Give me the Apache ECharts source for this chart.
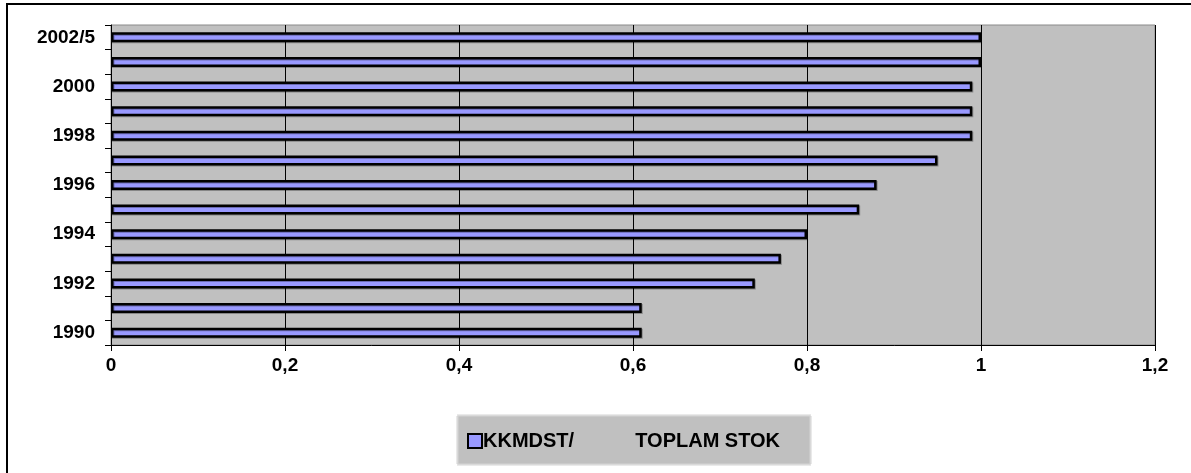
<!DOCTYPE html>
<html>
<head>
<meta charset="utf-8">
<script src="https://cdn.jsdelivr.net/npm/echarts@6/dist/echarts.min.js"></script>
<style>
html,body{margin:0;padding:0;background:#fff;overflow:hidden;}
#frame{position:absolute;left:6px;top:3px;width:1300px;height:600px;border:2px solid #000;box-sizing:border-box;}
#chart{position:absolute;left:0;top:0;width:1191px;height:473px;}
</style>
</head>
<body>
<div id="frame"></div>
<div id="chart"></div>
<script>
const categories = ['1990','1991','1992','1993','1994','1995','1996','1997','1998','1999','2000','2001','2002/5'];
const values = [0.61,0.61,0.74,0.77,0.80,0.86,0.88,0.95,0.99,0.99,0.99,1.0,1.0];
const xTicks = {min:0, max:1.2, interval:0.2};
const seriesName = 'KKMDST/           TOPLAM STOK';

const chart = echarts.init(document.getElementById('chart'), null, {renderer:'canvas'});
const font = '"Liberation Sans", Arial, sans-serif';
chart.setOption({
  animation:false,
  backgroundColor:'transparent',
  grid:{left:111, right:36, top:25, bottom:128, show:true, backgroundColor:'#C0C0C0', borderColor:'#8a8a8a', borderWidth:1},
  graphic:[
    {type:'rect', left:456, top:414, shape:{width:353, height:49}, style:{fill:'#C0C0C0', stroke:'#d4d4d4', lineWidth:3, lineDash:[1,1]}, z:-1}
  ],
  legend:{
    left:462, top:426, itemWidth:14, itemHeight:14, icon:'rect', itemGap:0,
    data:[seriesName],
    textStyle:{fontFamily:font, fontWeight:'bold', fontSize:20, color:'#000', padding:[0,0,0,-4]},
    itemStyle:{borderColor:'#000', borderWidth:2}
  },
  xAxis:{
    type:'value', min:xTicks.min, max:xTicks.max, interval:xTicks.interval,
    axisLine:{show:true, lineStyle:{color:'#000', width:1}},
    axisTick:{show:true, length:6, lineStyle:{color:'#000'}},
    splitLine:{show:true, lineStyle:{color:'#000', width:1}},
    axisLabel:{margin:11, fontFamily:font, fontWeight:'bold', fontSize:19, color:'#000',
      formatter:v=>String(Math.round(v*10)/10).replace('.',',')}
  },
  yAxis:{
    type:'category', data:categories,
    axisLine:{show:true, lineStyle:{color:'#000', width:1}},
    axisTick:{show:true, length:6, interval:0, lineStyle:{color:'#000'}},
    axisLabel:{interval:1, margin:16, fontFamily:font, fontWeight:'bold', fontSize:19, color:'#000'},
    splitLine:{show:false}
  },
  series:[{
    name:seriesName, type:'bar', data:values, barWidth:10,
    itemStyle:{color:'#9999FF', borderColor:'#000', borderWidth:2.5, shadowColor:'rgba(0,0,0,0.3)', shadowOffsetX:1, shadowOffsetY:1}
  }]
});
</script>
</body>
</html>
